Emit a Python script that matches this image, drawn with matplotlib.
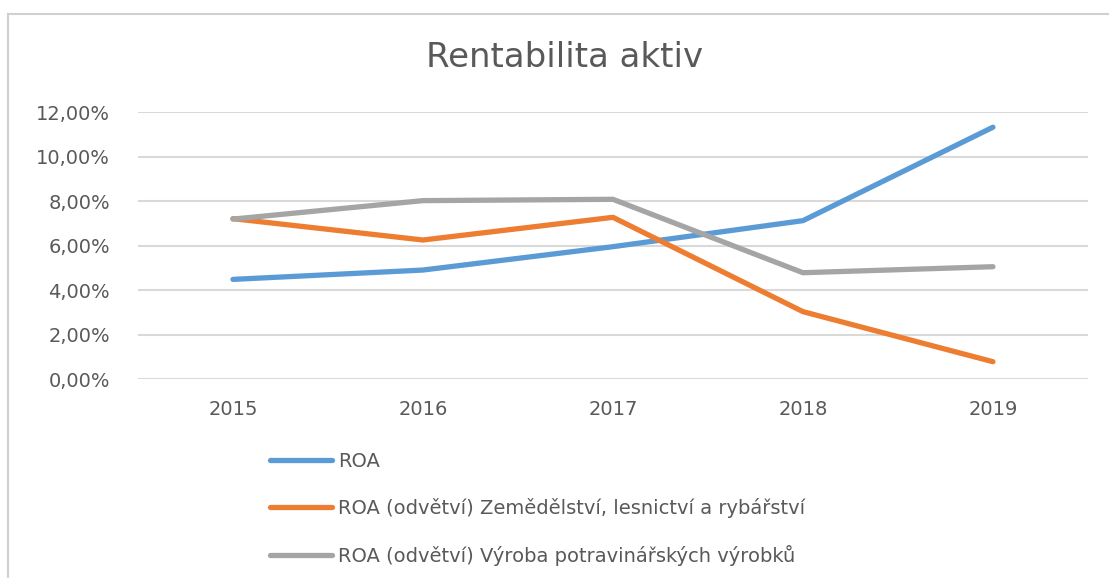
import matplotlib
matplotlib.use("Agg")
import matplotlib.pyplot as plt
from matplotlib.lines import Line2D
from matplotlib.ticker import FuncFormatter, MultipleLocator

years = ["2015", "2016", "2017", "2018", "2019"]
roa = [0.0449, 0.0491, 0.0596, 0.0713, 0.1133]
roa_zemedelstvi = [0.0722, 0.0626, 0.0728, 0.0304, 0.0079]
roa_potraviny = [0.0720, 0.0803, 0.0809, 0.0479, 0.0506]

labels = [
    "ROA",
    "ROA (odvětví) Zemědělství, lesnictví a rybářství",
    "ROA (odvětví) Výroba potravinářských výrobků",
]
colors = ["#5B9BD5", "#ED7D31", "#A5A5A5"]
text_col = "#595959"

plt.rcParams["font.family"] = ["DejaVu Sans"]

fig = plt.figure(figsize=(11.09, 5.78), dpi=100)
ax = fig.add_axes([0.1244, 0.3438, 0.8566, 0.4619])

x = range(len(years))
for vals, lab, c in zip([roa, roa_zemedelstvi, roa_potraviny], labels, colors):
    ax.plot(x, vals, color=c, lw=3.8, label=lab, solid_capstyle="round",
            solid_joinstyle="round")

ax.set_xlim(-0.5, len(years) - 0.5)
ax.set_ylim(0, 0.12)
ax.set_xticks(list(x))
ax.set_xticklabels(years)
ax.yaxis.set_major_locator(MultipleLocator(0.02))
ax.yaxis.set_major_formatter(FuncFormatter(lambda v, p: f"{v*100:.2f}%".replace(".", ",")))
ax.grid(axis="y", color="#D9D9D9", lw=1.5)
ax.set_axisbelow(True)
for s in ax.spines.values():
    s.set_visible(False)
ax.tick_params(axis="both", length=0, labelsize=14, labelcolor=text_col)
ax.tick_params(axis="x", pad=15)
ax.tick_params(axis="y", pad=20)

fig.text(0.5095, 0.9, "Rentabilita aktiv", ha="center", va="center",
         fontsize=24.5, color=text_col)

fig.legend(loc="upper left", bbox_to_anchor=(0.2435, 0.218), frameon=False,
           fontsize=14, labelcolor=text_col, handlelength=3.2,
           handletextpad=0.3, labelspacing=1.38, borderaxespad=0,
           borderpad=0)

# outer chart border (top and left edges visible)
fig.add_artist(Line2D([8 / 1109, 1], [1 - 14 / 578] * 2, color="#D0D0D0", lw=1.5))
fig.add_artist(Line2D([8 / 1109] * 2, [0, 1 - 14 / 578], color="#D0D0D0", lw=1.5))

fig.savefig("out.png", dpi=100)
